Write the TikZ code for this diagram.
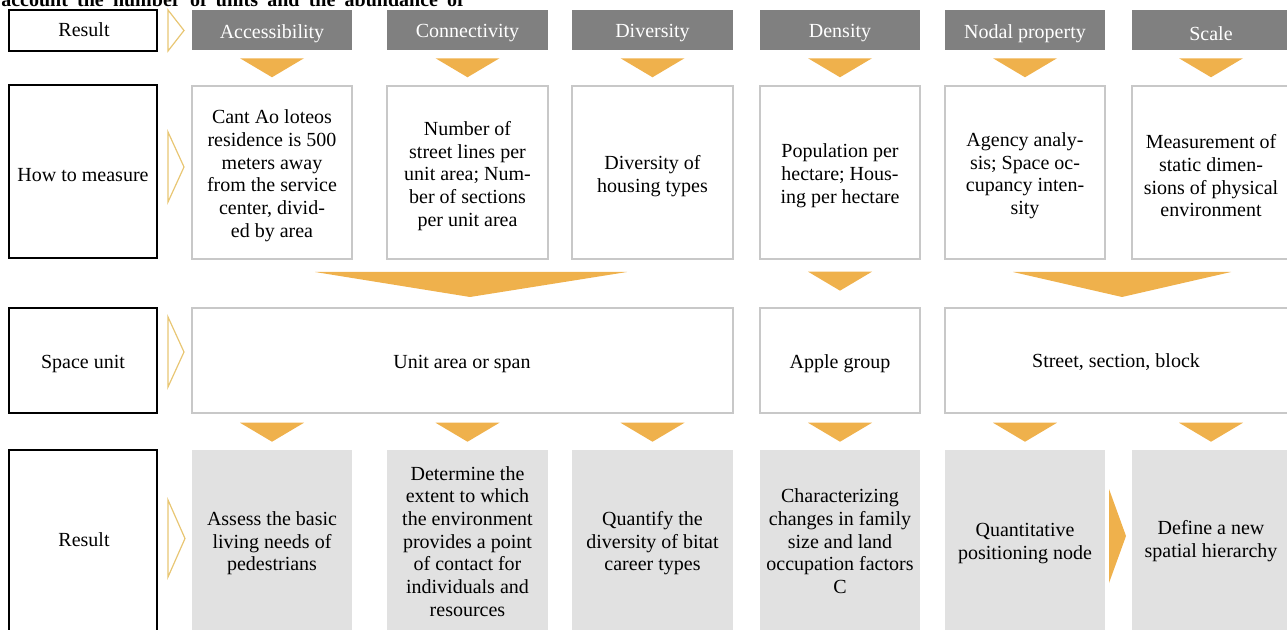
\documentclass[tikz,border=0pt]{standalone}
\usepackage{fontspec}
\setmainfont{Liberation Serif}
\usetikzlibrary{fit,calc}
\definecolor{trifill}{RGB}{239,177,76}
\definecolor{hdrgray}{RGB}{128,128,128}
\definecolor{resgray}{RGB}{225,225,225}
\definecolor{boxline}{RGB}{200,200,200}
\definecolor{chevline}{RGB}{232,198,115}
\begin{document}
\begin{tikzpicture}[x=0.75pt,y=-0.75pt,
  every node/.style={font=\fontsize{15}{17}\selectfont, inner sep=0pt, align=center},
  txt/.style={yshift=-2.5pt},
  labelbox/.style={draw=black, line width=2.2pt},
  hdrbox/.style={fill=hdrgray},
  hdrtext/.style={txt, text=white},
  measbox/.style={draw=boxline, line width=1pt, fill=white},
  resbox/.style={fill=resgray},
  trishape/.style={fill=trifill},
  chevout/.style={draw=chevline, line width=0.9pt, line join=miter}
]
\useasboundingbox (0,0) rectangle (1287,630);
\clip (0,0) rectangle (1287,630);

% cut-off line of text at the top
\node[anchor=base west, font=\fontsize{15}{17}\selectfont\bfseries] (topline) at (1,7)
  {\makebox[347pt][s]{account the number of units and the abundance of}};

% row labels
\node[labelbox, fit={(9,10)(157,51)}] (L1) {};
\node[labelbox, fit={(9,85)(157,258)}] (L2) {};
\node[labelbox, fit={(9,308)(157,413)}] (L3) {};
\node[labelbox, fit={(9,450)(157,645)}] (L4) {};
\node[txt] at (84,26) (L1t) {Result};
\node[txt] at (L2.center) (L2t) {How to measure};
\node[txt] at (L3.center) (L3t) {Space unit};
\node[txt] at (84,536) (L4t) {Result};

% headers
\node[hdrbox, fit={(192,10)(352,50)}] (h1) {};
\node[hdrbox, fit={(387,10)(548,50)}] (h2) {};
\node[hdrbox, fit={(572,10)(733,50)}] (h3) {};
\node[hdrbox, fit={(760,10)(920,50)}] (h4) {};
\node[hdrbox, fit={(945,10)(1105,50)}] (h5) {};
\node[hdrbox, fit={(1132,10)(1290,50)}] (h6) {};
\node[hdrtext] at (h1.center) (h1t) {Accessibility};
\node[hdrtext] at (h2.center) (h2t) {Connectivity};
\node[hdrtext] at (h3.center) (h3t) {Diversity};
\node[hdrtext] at (h4.center) (h4t) {Density};
\node[hdrtext] at (h5.center) (h5t) {Nodal property};
\node[hdrtext] at (h6.center) (h6t) {Scale};

% how to measure
\node[measbox, fit={(192,86)(352,259)}] (m1) {};
\node[measbox, fit={(387,86)(548,259)}] (m2) {};
\node[measbox, fit={(572,86)(733,259)}] (m3) {};
\node[measbox, fit={(760,86)(920,259)}] (m4) {};
\node[measbox, fit={(945,86)(1105,259)}] (m5) {};
\node[measbox, fit={(1132,86)(1295,259)}] (m6) {};
\node[txt] at (m1.center) (m1t) {Cant Ao loteos\\residence is 500\\meters away\\from the service\\center, divid-\\ed by area};
\node[txt] at (m2.center) (m2t) {Number of\\street lines per\\unit area; Num-\\ber of sections\\per unit area};
\node[txt] at (m3.center) (m3t) {Diversity of\\housing types};
\node[txt] at (m4.center) (m4t) {Population per\\hectare; Hous-\\ing per hectare};
\node[txt] at (m5.center) (m5t) {Agency analy-\\sis; Space oc-\\cupancy inten-\\sity};
\node[txt] at (1211,172.5) (m6t) {Measurement of\\static dimen-\\sions of physical\\environment};

% space unit
\node[measbox, fit={(192,308)(733,413)}] (s1) {};
\node[measbox, fit={(760,308)(920,413)}] (s2) {};
\node[measbox, fit={(945,308)(1295,413)}] (s3) {};
\node[txt] at (462,361) (s1t) {Unit area or span};
\node[txt] at (s2.center) (s2t) {Apple group};
\node[txt] at (1116,359) (s3t) {Street, section, block};

% results
\node[resbox, fit={(192,450)(352,635)}] (r1) {};
\node[resbox, fit={(387,450)(548,635)}] (r2) {};
\node[resbox, fit={(572,450)(733,635)}] (r3) {};
\node[resbox, fit={(760,450)(920,635)}] (r4) {};
\node[resbox, fit={(945,450)(1105,635)}] (r5) {};
\node[resbox, fit={(1132,450)(1290,635)}] (r6) {};
\node[txt] at (272,540) (r1t) {Assess the basic\\living needs of\\pedestrians};
\node[txt] at (467.5,538) (r2t) {Determine the\\extent to which\\the environment\\provides a point\\of contact for\\individuals and\\resources};
\node[txt] at (652.5,540) (r3t) {Quantify the\\diversity of bitat\\career types};
\node[txt] at (840,538) (r4t) {Characterizing\\changes in family\\size and land\\occupation factors\\C};
\node[txt] at (1025,540) (r5t) {Quantitative\\positioning node};
\node[txt] at (1211,538) (r6t) {Define a new\\spatial hierarchy};

% down triangles under headers
\foreach \n in {h1,h2,h3,h4,h5,h6}
  \fill[trishape] ($(\n.south)+(-32,8)$) -- ($(\n.south)+(32,8)$) -- ($(\n.south)+(0,27)$) -- cycle;
% down triangles above results
\foreach \n in {r1,r2,r3,r4,r5,r6}
  \fill[trishape] ($(\n.north)+(-32,-27)$) -- ($(\n.north)+(32,-27)$) -- ($(\n.north)+(0,-8)$) -- cycle;
% funnels between measure and space unit
\fill[trishape] (315,272) -- (627,272) -- (470,297) -- cycle;
\fill[trishape] ($(m4.south)+(-32,12)$) -- ($(m4.south)+(32,12)$) -- ($(m4.south)+(0,31)$) -- cycle;
\fill[trishape] (1013,272) -- (1231,272) -- (1122,297) -- cycle;

% outline chevrons
\draw[chevout] (168,10) -- (184,30.5) -- (168,51) -- cycle;
\draw[chevout] (168,132) -- (184,167) -- (168,202) -- cycle;
\draw[chevout] (168,317) -- (184,352) -- (168,387) -- cycle;
\draw[chevout] (168,500) -- (185,538.5) -- (168,577) -- cycle;

% filled chevron between r5 and r6
\fill[trishape] (1109,489) -- (1126,536) -- (1109,583) -- cycle;
\end{tikzpicture}
\end{document}
